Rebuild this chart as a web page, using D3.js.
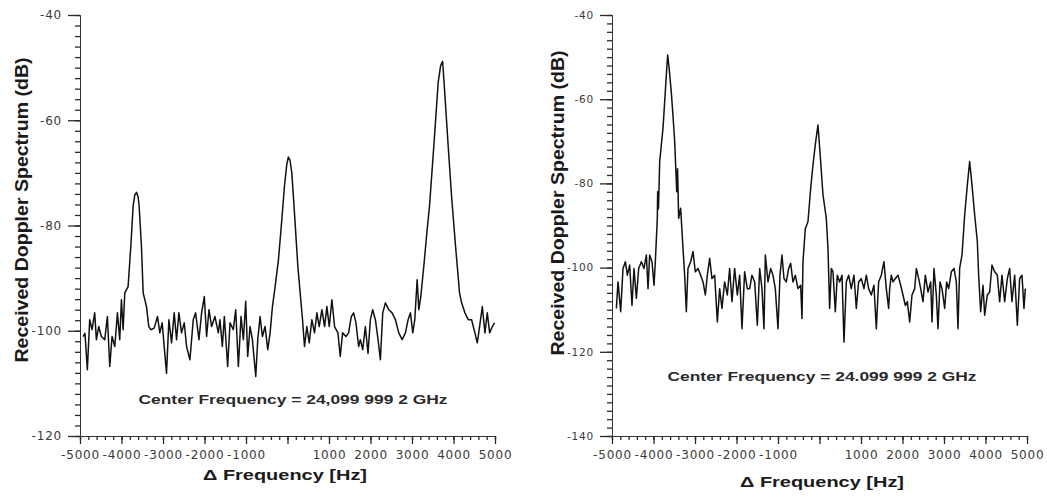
<!DOCTYPE html>
<html>
<head>
<meta charset="utf-8">
<script src="https://cdn.jsdelivr.net/npm/d3@7"></script>
<style>
  body { margin: 0; background: #fff; }
  svg { display: block; }
  .tick text { font-family: "DejaVu Sans", sans-serif; fill: #3a3a3a; letter-spacing: 0.8px; }
  .domain { stroke: #333; }
  .tick line { stroke: #2a2a2a; stroke-width: 1.3px; }
</style>
</head>
<body>
<svg id="chart" width="1047" height="497"></svg>
<script>
// spectra: [delta frequency Hz, level dB]
var leftSpectrum = [
  [-4927,-101.1],[-4880,-100.5],[-4823,-107.4],[-4766,-97.9],[-4710,-99.8],[-4646,-96.6],[-4605,-101.7],
  [-4549,-99.2],[-4485,-101.1],[-4404,-101.7],[-4340,-97.3],[-4283,-106.8],[-4227,-101.1],[-4162,-103],
  [-4098,-96.6],[-4042,-101.7],[-4002,-94.1],[-3961,-99.8],[-3921,-92.8],[-3841,-91.6],[-3776,-84],
  [-3720,-76.3],[-3680,-74.2],[-3639,-73.7],[-3600,-74.6],[-3575,-76.3],[-3519,-84],[-3478,-92.8],
  [-3398,-95.4],[-3342,-99.2],[-3293,-99.8],[-3213,-99.5],[-3132,-97.3],[-3076,-100.4],[-3020,-98.5],
  [-2971,-103],[-2915,-108.1],[-2858,-97.9],[-2794,-102.3],[-2730,-96.6],[-2673,-101.7],[-2617,-96.6],
  [-2553,-100.4],[-2488,-98.5],[-2432,-103],[-2351,-105.5],[-2271,-97.9],[-2214,-96.6],[-2134,-101.7],
  [-2070,-96.6],[-2005,-93.5],[-1949,-101.1],[-1892,-96],[-1828,-99.2],[-1748,-97.3],[-1667,-100.4],
  [-1627,-97.9],[-1570,-103],[-1522,-97.3],[-1442,-106.8],[-1385,-98.5],[-1305,-99.8],[-1248,-96],
  [-1184,-106.8],[-1120,-97.3],[-1063,-101.7],[-1007,-94.4],[-959,-104.9],[-902,-99.2],[-846,-101.7],
  [-765,-108.7],[-717,-101.7],[-661,-97.3],[-604,-101.1],[-540,-99.2],[-476,-103.6],[-419,-100.4],
  [-363,-95.4],[-298,-91.6],[-218,-86.5],[-137,-78.9],[-73,-72.5],[-17,-68.4],[20,-67],[60,-67.6],
  [104,-70],[168,-77.6],[249,-87.7],[305,-92.8],[362,-97.9],[410,-103],[466,-99.2],[523,-102.3],
  [587,-97.9],[651,-100.4],[708,-96.6],[764,-99.2],[829,-96],[893,-99.2],[949,-95.4],[1006,-99.2],
  [1070,-94.1],[1134,-99.2],[1215,-100.4],[1271,-104.9],[1328,-100.4],[1408,-101.1],[1472,-100.4],
  [1537,-97.3],[1593,-96.6],[1650,-98.5],[1714,-103],[1755,-101.7],[1812,-103.6],[1876,-99.2],
  [1940,-104.3],[1997,-97.9],[2053,-96],[2118,-97.9],[2182,-101.7],[2238,-105.5],[2295,-96.6],
  [2359,-94.7],[2440,-96],[2520,-96.6],[2601,-97.9],[2681,-100.4],[2762,-101.7],[2842,-100.4],
  [2906,-97.9],[2963,-96.6],[3019,-100.4],[3067,-97.9],[3124,-90.3],[3164,-96],[3212,-93.5],
  [3285,-87.7],[3365,-80.8],[3422,-76.3],[3526,-64.9],[3631,-52.8],[3690,-49.6],[3737,-48.8],
  [3768,-52.2],[3872,-64.9],[3953,-74.4],[4050,-84],[4146,-92.8],[4195,-94.7],[4275,-96.6],
  [4355,-97.9],[4436,-97.9],[4516,-100.4],[4573,-102.3],[4629,-99.2],[4694,-95.4],[4758,-100.4],
  [4814,-96.6],[4871,-100.4],[4935,-99.2],[4990,-98.5]
];

var rightSpectrum = [
  [-4895,-109.7],[-4855,-103.4],[-4791,-110.5],[-4735,-100.2],[-4678,-98.6],[-4630,-101.8],[-4574,-99.4],
  [-4518,-109],[-4470,-100.2],[-4413,-107.3],[-4357,-100.2],[-4293,-98.6],[-4229,-100.2],[-4172,-97],
  [-4132,-105],[-4092,-97],[-4036,-98.6],[-3988,-104.2],[-3956,-98.6],[-3908,-88.3],[-3900,-82],
  [-3880,-86],[-3851,-74.8],[-3771,-66.9],[-3715,-58.1],[-3680,-52.5],[-3658,-49.5],[-3620,-53],
  [-3570,-58.5],[-3530,-64],[-3490,-70],[-3460,-77.2],[-3440,-82],[-3420,-76.5],[-3394,-88.3],
  [-3346,-85.9],[-3289,-95.4],[-3249,-101.8],[-3209,-110.5],[-3169,-100.2],[-3105,-98.6],[-3048,-96.2],
  [-2992,-101],[-2928,-100.2],[-2864,-101.8],[-2807,-103.4],[-2751,-106.5],[-2703,-101.8],[-2647,-97.8],
  [-2591,-102.6],[-2526,-101.8],[-2462,-112.9],[-2406,-105],[-2350,-109.7],[-2286,-103.4],[-2221,-106.5],
  [-2165,-100.2],[-2109,-108.1],[-2045,-100.2],[-1980,-106.5],[-1924,-101.8],[-1868,-114.5],[-1804,-101],
  [-1740,-105],[-1683,-105],[-1627,-101.8],[-1562,-103.4],[-1498,-113.7],[-1442,-100.2],[-1386,-105],
  [-1338,-114.5],[-1305,-97],[-1241,-103.4],[-1177,-100.2],[-1121,-101.8],[-1065,-105],[-1000,-114.5],
  [-952,-101.8],[-904,-97],[-856,-102.6],[-800,-103.4],[-743,-100.2],[-695,-99],[-639,-103.4],
  [-583,-101.8],[-519,-105],[-454,-104.2],[-422,-112.1],[-398,-98.6],[-342,-90.7],[-278,-89.1],
  [-213,-81.2],[-157,-75.6],[-101,-70.8],[-37,-66.1],[28,-74.8],[84,-82.7],[164,-88.3],[204,-95.4],
  [244,-109.7],[285,-100.2],[325,-101],[381,-110.5],[429,-101.8],[485,-103.4],[542,-101.8],[590,-117.7],
  [646,-103.4],[702,-101.8],[766,-105],[831,-101.8],[887,-109.7],[943,-103.4],[1007,-102.6],[1071,-105],
  [1128,-101.8],[1184,-105],[1248,-106.5],[1312,-104.2],[1369,-114.5],[1425,-103.4],[1489,-101.8],
  [1553,-98.6],[1610,-105],[1666,-109.7],[1691,-105],[1731,-101.8],[1771,-103.4],[1828,-102.6],
  [1892,-101.8],[1956,-104.2],[2012,-106.5],[2069,-109],[2117,-108.1],[2173,-112.9],[2229,-106.5],
  [2294,-105],[2334,-100.2],[2390,-102.6],[2438,-105],[2494,-108.1],[2550,-101.8],[2615,-105.8],
  [2679,-103.4],[2711,-112.9],[2759,-100.2],[2815,-106.5],[2855,-114.5],[2904,-103.4],[2952,-105],
  [3016,-109.7],[3064,-103.4],[3112,-105],[3177,-101],[3241,-100.2],[3297,-103.4],[3337,-114.5],
  [3377,-100.2],[3434,-97],[3498,-87.5],[3562,-80.4],[3618,-74.8],[3675,-80.4],[3739,-87.5],
  [3803,-93.8],[3835,-101.8],[3883,-110.5],[3940,-104.2],[3980,-111.3],[4044,-106.5],[4100,-105.8],
  [4156,-99.4],[4221,-101],[4285,-101.8],[4341,-108.1],[4397,-101.8],[4462,-108.1],[4526,-102.6],
  [4582,-100.2],[4638,-108.1],[4703,-101.8],[4767,-113.7],[4823,-102.6],[4879,-101.8],[4927,-109.7],
  [4959,-105]
];

var freqMajor = [-5000,-4000,-3000,-2000,-1000,0,1000,2000,3000,4000,5000];
var leftDbMajor = [-120,-100,-80,-60,-40];
var rightDbMajor = [-140,-120,-100,-80,-60,-40];
var yTitle = "Received Doppler Spectrum (dB)";
var xTitle = "\u0394 Frequency [Hz]";
var leftNote = "Center Frequency = 24,099 999 2 GHz";
var rightNote = "Center Frequency = 24.099 999 2 GHz";

var svg = d3.select("#chart");

function drawPanel(p) {
  var x = d3.scaleLinear().domain([-5000, 5000]).range(p.xRange);
  var y = d3.scaleLinear().domain(p.yDomain).range([436, 15]);
  var g = svg.append("g");
  var base = y.range()[0];

  // minor ticks first, majors with labels on top
  g.append("g").attr("transform", "translate(0," + base + ")")
    .call(d3.axisBottom(x).tickValues(d3.range(-5000, 5001, 200)).tickSize(4).tickFormat(""));
  g.append("g").attr("transform", "translate(0," + base + ")")
    .call(d3.axisBottom(x).tickValues(freqMajor).tickSize(8).tickPadding(6)
      .tickFormat(function(d) { return d === 0 ? "" : String(d); }))
    .selectAll("text").style("font-size", "12px");

  g.append("g").attr("transform", "translate(" + p.xRange[0] + ",0)")
    .call(d3.axisLeft(y).tickValues(d3.range(p.yDomain[0], p.yDomain[1] + 1, 2)).tickSize(5).tickFormat(""));
  g.append("g").attr("transform", "translate(" + p.xRange[0] + ",0)")
    .call(d3.axisLeft(y).tickValues(p.yMajor).tickSize(12).tickPadding(6).tickFormat(String))
    .selectAll("text").style("font-size", p.yFont);

  g.append("path")
    .datum(p.data)
    .attr("fill", "none")
    .attr("stroke", "#111")
    .attr("stroke-width", 1.5)
    .attr("stroke-linejoin", "round")
    .attr("d", d3.line().x(function(d) { return x(d[0]); }).y(function(d) { return y(d[1]); }));

  g.append("text")
    .attr("transform", "translate(" + p.yTitlePos[0] + "," + p.yTitlePos[1] + ") rotate(-90)")
    .attr("text-anchor", "middle").attr("dy", "0.35em")
    .attr("textLength", 305).attr("lengthAdjust", "spacingAndGlyphs")
    .style("font", "bold 19px 'Liberation Sans', Arial, sans-serif").style("fill", "#1a1a1a")
    .text(yTitle);

  g.append("text")
    .attr("x", p.xTitlePos[0]).attr("y", p.xTitlePos[1])
    .attr("text-anchor", "middle").attr("dy", "0.35em")
    .attr("textLength", 164).attr("lengthAdjust", "spacingAndGlyphs")
    .style("font", "bold 15.5px 'Liberation Sans', Arial, sans-serif").style("fill", "#1a1a1a")
    .text(xTitle);

  g.append("text")
    .attr("x", p.notePos[0]).attr("y", p.notePos[1])
    .attr("text-anchor", "middle").attr("dy", "0.35em")
    .attr("textLength", 309).attr("lengthAdjust", "spacingAndGlyphs")
    .style("font", "bold 12.5px 'Liberation Sans', Arial, sans-serif").style("fill", "#2a2a2a")
    .text(p.note);
}

drawPanel({
  data: leftSpectrum, xRange: [80, 495], yDomain: [-120, -40], yMajor: leftDbMajor, yFont: "12px",
  yTitlePos: [21, 210], xTitlePos: [285, 475], notePos: [293, 400], note: leftNote
});

drawPanel({
  data: rightSpectrum, xRange: [612, 1027], yDomain: [-140, -40], yMajor: rightDbMajor, yFont: "10.5px",
  yTitlePos: [557, 203], xTitlePos: [822, 482], notePos: [822, 377], note: rightNote
});
</script>
</body>
</html>
